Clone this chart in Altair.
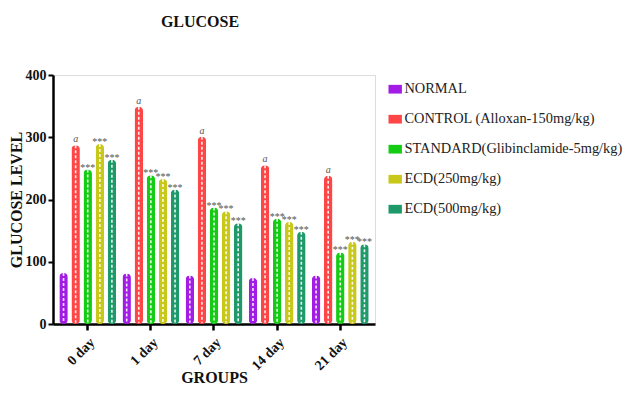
import altair as alt
import pandas as pd

groups = ["0 day", "1 day", "7 day", "14 day", "21 day"]
series = ["NORMAL", "CONTROL (Alloxan-150mg/kg)", "STANDARD(Glibinclamide-5mg/kg)",
          "ECD(250mg/kg)", "ECD(500mg/kg)"]
normal = [82, 81, 78, 74, 78]
control = [287, 349, 301, 255, 238]
standard = [248, 239, 187, 169, 115]
ecd250 = [289, 233, 181, 164, 132]
ecd500 = [264, 216, 162, 148, 128]
sig = ["", "a", "***", "***", "***"]
colors = ["#A21CE6", "#FF4646", "#14CC14", "#C8C81A", "#1E9A6A"]

values = [normal, control, standard, ecd250, ecd500]
rows = []
for s, vals, m in zip(series, values, sig):
    for g, v in zip(groups, vals):
        rows.append({"group": g, "series": s, "value": v, "sig": m})
df = pd.DataFrame(rows)

FONT = "Liberation Serif"

x = alt.X("group:N", sort=groups, title="GROUPS",
          scale=alt.Scale(paddingInner=0.1, paddingOuter=0.1),
          axis=alt.Axis(labelAngle=-45, labelFont=FONT, labelFontWeight="bold",
                        labelFontSize=14, labelColor="#111", labelAlign="right",
                        labelBaseline="top", labelPadding=5,
                        titleFont=FONT, titleFontWeight="bold", titleFontSize=16,
                        titleColor="#111", titleY=61, titleBaseline="bottom",
                        domainColor="#000", domainWidth=2.5, tickColor="#000",
                        tickWidth=2.5, tickSize=6, grid=False))
xo = alt.XOffset("series:N", sort=series,
                 scale=alt.Scale(paddingInner=0.3, paddingOuter=0))
y = alt.Y("value:Q", title="GLUCOSE LEVEL",
          scale=alt.Scale(domain=[0, 400]),
          axis=alt.Axis(values=[0, 100, 200, 300, 400], labelFont=FONT,
                        labelFontWeight="bold", labelFontSize=14, labelColor="#111",
                        labelPadding=2,
                        titleFont=FONT, titleFontWeight="bold", titleFontSize=16,
                        titleColor="#111", titleX=-29, titleBaseline="bottom",
                        domainColor="#000", domainWidth=2.5, tickColor="#000",
                        tickWidth=2, tickSize=5, grid=False))
color = alt.Color("series:N", sort=series,
                  scale=alt.Scale(domain=series, range=colors),
                  legend=alt.Legend(title=None, labelFont=FONT, labelFontSize=14.4,
                                    labelColor="#222",
                                    symbolType="M-1,-0.65L1,-0.65L1,0.65L-1,0.65Z",
                                    symbolSize=180, symbolStrokeWidth=0,
                                    labelOffset=2,
                                    rowPadding=15, labelLimit=400,
                                    orient="none", legendX=335, legendY=7,
                                    padding=0))

base = alt.Chart(df)

bars = base.mark_bar(cornerRadius=4).encode(x=x, xOffset=xo, y=y, color=color)

inner = base.mark_rule(color="white", strokeWidth=1.6, strokeDash=[3, 2],
                       opacity=0.9).encode(
    x=x, xOffset=xo, y=alt.Y("value:Q"), y2=alt.datum(2))

txt_a = base.transform_filter(alt.datum.sig == "a").mark_text(
    font=FONT, fontStyle="italic", fontSize=10, color="#555", dy=-6).encode(
    x=x, xOffset=xo, y=alt.Y("value:Q"), text="sig:N")

txt_s = base.transform_filter(alt.datum.sig == "***").mark_text(
    font=FONT, fontSize=10, color="#555", dy=-2).encode(
    x=x, xOffset=xo, y=alt.Y("value:Q"), text="sig:N")

chart = alt.layer(bars, inner, txt_a, txt_s).properties(
    width=322, height=249,
    autosize=alt.AutoSizeParams(type="none"),
    padding={"left": 45, "top": 67, "right": 249, "bottom": 63},
    title=alt.TitleParams("GLUCOSE", font=FONT, fontWeight="bold", fontSize=16,
                          color="#111", anchor="middle", dx=-14, offset=38),
).configure_view(stroke=None).configure(background="white")

chart.save("out.html", embed_options={"renderer": "svg", "actions": False})
